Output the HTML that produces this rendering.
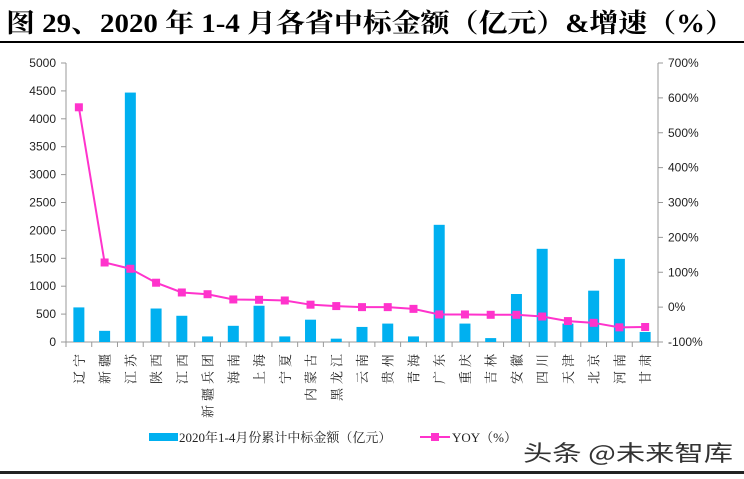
<!DOCTYPE html>
<html><head><meta charset="utf-8"><style>
body{margin:0;background:#fff;width:744px;height:474px;overflow:hidden;font-family:"Liberation Serif","Noto Serif CJK SC",serif}
</style></head><body>
<svg id="s" width="744" height="474" xmlns="http://www.w3.org/2000/svg">
<text x="6" y="32" font-size="26" font-weight="bold" textLength="728" lengthAdjust="spacingAndGlyphs" font-family="Liberation Serif,Noto Serif CJK SC,serif" fill="#000">图 29、2020 年 1-4 月各省中标金额（亿元）&amp;增速（%）</text>
<rect x="0" y="41" width="744" height="2" fill="#000"/>
<rect x="0" y="471" width="744" height="3" fill="#222"/>
</svg>
<script>
const s=document.getElementById('s'),NS='http://www.w3.org/2000/svg';
function el(t,a,txt){const e=document.createElementNS(NS,t);for(const k in a)e.setAttribute(k,a[k]);if(txt!==undefined)e.textContent=txt;s.appendChild(e);return e;}
const L=66,R=658,T=63,B=342,n=23,w=(R-L)/n;
const names=['辽宁','新疆','江苏','陕西','江西','新疆兵团','海南','上海','宁夏','内蒙古','黑龙江','云南','贵州','青海','广东','重庆','吉林','安徽','四川','天津','北京','河南','甘肃'];
const v=[620,200,4470,600,470,100,290,650,100,400,60,270,330,100,2100,330,70,860,1670,330,920,1490,180];
const y=[573,128,110,70,42,37,22,21,19,7,3,0,0,-5,-21,-21,-22,-22,-27,-40,-45,-58,-57];
const gy=x=>B-(x/5000)*(B-T), py=p=>B-((p+100)/800)*(B-T);
el('line',{x1:L,y1:T,x2:L,y2:B,stroke:'#999'});
el('line',{x1:R,y1:T,x2:R,y2:B,stroke:'#999'});
el('line',{x1:L,y1:B,x2:R,y2:B,stroke:'#999'});
for(let i=0;i<=10;i++){const yy=gy(i*500);el('line',{x1:L-5,y1:yy,x2:L,y2:yy,stroke:'#999'});
el('text',{x:L-10,y:yy+4,'font-size':12,'text-anchor':'end','font-family':'Liberation Sans,sans-serif',fill:'#222'},i*500);}
for(let i=0;i<=8;i++){const p=-100+i*100,yy=py(p);el('line',{x1:R,y1:yy,x2:R+5,y2:yy,stroke:'#999'});
el('text',{x:R+10,y:yy+4,'font-size':12,'font-family':'Liberation Sans,sans-serif',fill:'#222'},p+'%');}
for(let i=0;i<=n;i++){const xx=L+i*w;el('line',{x1:xx,y1:B,x2:xx,y2:B+5,stroke:'#999'});}
let pts=[];
names.forEach((nm,i)=>{const cx=L+(i+0.5)*w;const h=gy(v[i]);
el('rect',{x:cx-5.5,y:h,width:11,height:B-h,fill:'#00B0F0'});
pts.push(cx+','+py(y[i]));
el('text',{x:0,y:0,transform:`translate(${cx+5},350) rotate(-90)`,'font-size':13,'letter-spacing':4,'text-anchor':'end','font-family':'Noto Serif CJK SC,serif',fill:'#222'},nm);});
el('polyline',{points:pts.join(' '),fill:'none',stroke:'#FF33CC','stroke-width':2});
pts.forEach(p=>{const [a,b]=p.split(',').map(Number);el('rect',{x:a-4,y:b-4,width:8,height:8,fill:'#FF33CC'});});
el('rect',{x:149,y:433,width:29,height:8,fill:'#00B0F0'});
el('text',{x:179,y:442,'font-size':13,'font-family':'Liberation Serif,Noto Serif CJK SC,serif',fill:'#222'},'2020年1-4月份累计中标金额（亿元）');
el('line',{x1:420,y1:437,x2:450,y2:437,stroke:'#FF33CC','stroke-width':2});
el('rect',{x:431,y:433,width:8,height:8,fill:'#FF33CC'});
el('text',{x:452,y:442,'font-size':13,'font-family':'Liberation Serif,Noto Serif CJK SC,serif',fill:'#222'},'YOY（%）');
el('text',{x:523,y:461,'font-size':22,'textLength':210,'lengthAdjust':'spacingAndGlyphs','font-family':'Noto Sans CJK SC,sans-serif',fill:'#333'},'头条 @未来智库');
</script>
</body></html>
